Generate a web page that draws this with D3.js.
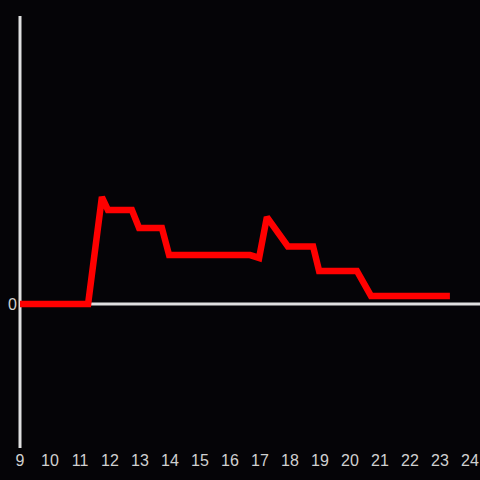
<!DOCTYPE html>
<html>
<head>
<meta charset="utf-8">
<script src="https://cdn.jsdelivr.net/npm/d3@7"></script>
<style>
  html, body { margin: 0; padding: 0; background: #050407; }
  svg { display: block; }
</style>
</head>
<body>
<svg id="chart"></svg>
<script>
const hours = [9, 11.27, 11.73, 11.93, 12.73, 12.97, 13.73, 13.97, 16.67, 16.97, 17.23, 17.93, 18.77, 18.97, 20.23, 20.7, 23.33];
const values = [0, 0, 0.743, 0.653, 0.653, 0.528, 0.528, 0.34, 0.34, 0.32, 0.604, 0.40, 0.40, 0.23, 0.23, 0.056, 0.056];
const xTicks = d3.range(9, 25);
const yTicks = [0];

const width = 480, height = 480;

const scale = {
	x: d3.scaleLinear().domain([9, 24]).range([20, 470]),
	y: d3.scaleLinear().domain([-1, 2]).range([448, 16])
};

const $svg = d3.select("#chart").attr("width", width).attr("height", height);

// zero line
$svg.append("line")
	.attr("x1", scale.x(9)).attr("x2", width)
	.attr("y1", scale.y(0)).attr("y2", scale.y(0))
	.attr("stroke", "#e0e0e0").attr("stroke-width", 3);

// y axis line
$svg.append("line")
	.attr("x1", scale.x(9)).attr("x2", scale.x(9))
	.attr("y1", scale.y(2)).attr("y2", scale.y(-1))
	.attr("stroke", "#e0e0e0").attr("stroke-width", 3);

// x tick labels
$svg.append("g")
	.selectAll("text")
	.data(xTicks)
	.join("text")
	.attr("x", (d) => scale.x(d))
	.attr("y", 466)
	.attr("text-anchor", "middle")
	.attr("fill", "#d0d0d0")
	.attr("font-family", "Liberation Sans, Arial, sans-serif")
	.attr("font-size", 16)
	.text((d) => d);

// y tick labels
$svg.append("g")
	.selectAll("text")
	.data(yTicks)
	.join("text")
	.attr("x", 17)
	.attr("y", (d) => scale.y(d) + 6)
	.attr("text-anchor", "end")
	.attr("fill", "#d0d0d0")
	.attr("font-family", "Liberation Sans, Arial, sans-serif")
	.attr("font-size", 16)
	.text((d) => d);

const line = d3.line()
	.x((d, i) => scale.x(hours[i]))
	.y((d) => scale.y(d));

$svg.append("path")
	.datum(values)
	.attr("d", line)
	.attr("fill", "none")
	.attr("stroke", "#ff0000")
	.attr("stroke-width", 6.5)
	.attr("stroke-linejoin", "miter")
	.attr("stroke-miterlimit", 2);
</script>
</body>
</html>
